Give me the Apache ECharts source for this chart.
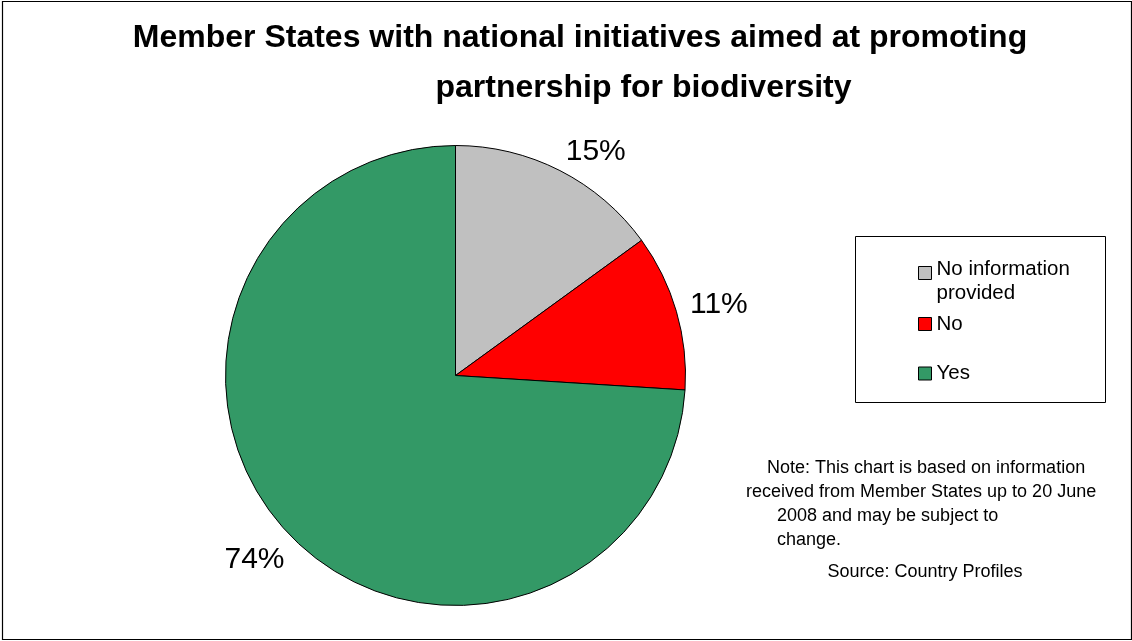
<!DOCTYPE html>
<html>
<head>
<meta charset="utf-8">
<title>Member States with national initiatives aimed at promoting partnership for biodiversity</title>
<script src="https://cdn.jsdelivr.net/npm/echarts@6.0.0/dist/echarts.min.js"></script>
<style>
  html, body { margin: 0; padding: 0; background: #ffffff; }
  #chart { width: 1132px; height: 641px; }
</style>
</head>
<body>
<div id="chart"></div>
<script>
// Survey answers, in clockwise order starting at twelve o'clock
const categories = ['No information provided', 'No', 'Yes'];
const shares = [15, 11, 74];            // per cent of Member States
const sliceColors = ['#C0C0C0', '#FF0000', '#339966'];
const legendLabels = ['{pad| }\n{t|No information}\n{t|provided}', 'No', 'Yes'];

const titleLines = [
  'Member States with national initiatives aimed at promoting',
  'partnership for biodiversity'
];
const noteLines = [
  'Note: This chart is based on information',
  'received from Member States up to 20 June',
  '2008 and may be subject to',
  'change.'
];
const sourceLine = 'Source: Country Profiles';

// Pie geometry
const CX = 455.5, CY = 375.5, RADIUS = 230;
const LABEL_GAP = 10;
const LABEL_SHIFT = [4, 5];
const FONT = 'Arial, "Liberation Sans", Helvetica, sans-serif';

const total = shares.reduce((a, b) => a + b, 0);

// Mid-angle of a slice, measured clockwise from twelve o'clock
function midAngle(i) {
  let before = 0;
  for (let j = 0; j < i; j++) before += shares[j];
  return (before + shares[i] / 2) / total * Math.PI * 2;
}

// Percentage labels sit just beyond the rim, pushed outwards by half their box
function placeLabel(p) {
  const a = midAngle(p.dataIndex);
  const dx = Math.sin(a), dy = -Math.cos(a);
  const R = RADIUS + LABEL_GAP;
  const w = p.labelRect.width, h = p.labelRect.height;
  const kx = Math.max(-1, Math.min(1, dx * 2));
  const ky = Math.max(-1, Math.min(1, dy * 2));
  return {
    x: CX + dx * R + kx * w / 2 + LABEL_SHIFT[0],
    y: CY + dy * R + ky * h / 2 + LABEL_SHIFT[1],
    align: 'center',
    verticalAlign: 'middle'
  };
}

const pieData = categories.map((name, i) => ({
  name: name,
  value: shares[i],
  itemStyle: { color: sliceColors[i] }
}));

// One legend block per entry so each row keeps its own spacing
const legendTops = [240.5, 312, 361.5];
const legends = categories.map((name, i) => ({
  data: [name],
  orient: 'vertical',
  left: 918,
  top: legendTops[i],
  padding: 0,
  itemWidth: 13,
  itemHeight: 13,
  itemGap: 0,
  selectedMode: false,
  icon: 'rect',
  itemStyle: { borderColor: '#000', borderWidth: 1 },
  formatter: () => legendLabels[i],
  textStyle: {
    fontFamily: FONT,
    fontSize: 20.5,
    lineHeight: 24,
    color: '#000',
    rich: {
      pad: { fontSize: 1, lineHeight: 17 },
      t: { fontFamily: FONT, fontSize: 20.5, lineHeight: 24, color: '#000' }
    }
  }
}));

const noteStyle = { fontFamily: FONT, fontSize: 18, fill: '#000' };
const noteX = [767, 746, 777, 777];
const noteY = [468, 492, 516, 540];

const graphics = [
  // outer frame
  { type: 'rect', shape: { x: 2.5, y: 1.5, width: 1129, height: 638 },
    style: { fill: 'none', stroke: '#000', lineWidth: 1.2 }, silent: true, z: 0 },
  // legend frame
  { type: 'rect', shape: { x: 855.5, y: 236.5, width: 250, height: 166 },
    style: { fill: '#fff', stroke: '#000', lineWidth: 1 }, silent: true, z: 0 },
  // two-line title
  { type: 'text', x: 580, y: 38, silent: true,
    style: { text: titleLines[0], fontFamily: FONT, fontWeight: 'bold', fontSize: 32,
             fill: '#000', align: 'center', verticalAlign: 'middle' } },
  { type: 'text', x: 643.5, y: 88, silent: true,
    style: { text: titleLines[1], fontFamily: FONT, fontWeight: 'bold', fontSize: 32,
             fill: '#000', align: 'center', verticalAlign: 'middle' } },
  { type: 'text', x: 925, y: 572, silent: true,
    style: Object.assign({ text: sourceLine, align: 'center', verticalAlign: 'middle' }, noteStyle) }
].concat(noteLines.map((t, i) => ({
  type: 'text', x: noteX[i], y: noteY[i], silent: true,
  style: Object.assign({ text: t, align: 'left', verticalAlign: 'middle' }, noteStyle)
})));

const chart = echarts.init(document.getElementById('chart'), null, { renderer: 'canvas' });
chart.setOption({
  backgroundColor: '#ffffff',
  animation: false,
  legend: legends,
  graphic: graphics,
  series: [{
    type: 'pie',
    center: [CX, CY],
    radius: [0, RADIUS],
    startAngle: 90,
    clockwise: true,
    avoidLabelOverlap: false,
    silent: true,
    itemStyle: { borderColor: '#000', borderWidth: 1 },
    label: {
      show: true,
      position: 'outside',
      formatter: (p) => p.value + '%',
      fontFamily: FONT,
      fontSize: 30,
      color: '#000'
    },
    labelLine: { show: false },
    labelLayout: placeLabel,
    data: pieData
  }]
});
</script>
</body>
</html>
